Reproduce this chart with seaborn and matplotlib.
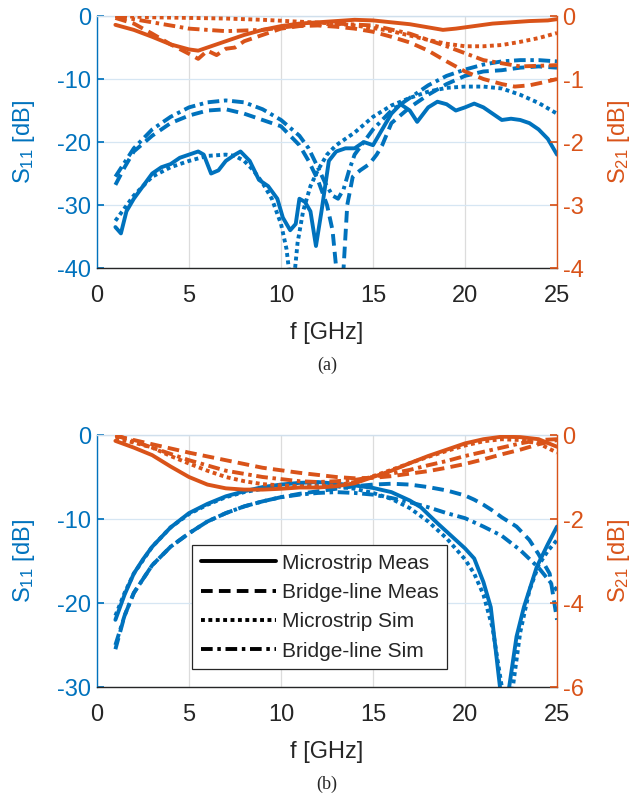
import numpy as np
import pandas as pd
import matplotlib
matplotlib.use("Agg")
import matplotlib.pyplot as plt
from matplotlib.lines import Line2D
import seaborn as sns

# Colours (MATLAB default order)
BLUE = "#0072BD"
ORANGE = "#D95319"

# ---------------- (a) top panel data ----------------
# S11 (left axis, dB)
fa_s11_ms_meas = [1, 1.3, 1.6, 2, 2.5, 3, 3.5, 4, 4.5, 5, 5.5, 5.8, 6.2, 6.6, 7, 7.5, 7.8, 8.3, 8.8, 9.3,
                  9.8, 10.1, 10.5, 10.8, 11.0, 11.3, 11.6, 11.9, 12.2, 12.6, 13.0, 13.5, 14.0, 14.5, 15.0,
                  15.5, 16.0, 16.5, 17.0, 17.4, 18.0, 18.5, 19.0, 19.5, 20.0, 20.5, 21.0, 21.5, 22.0, 22.5,
                  23.0, 23.5, 24.0, 24.5, 25]
a_s11_ms_meas = [-33.5, -34.5, -31, -29, -27, -25, -24, -23.5, -22.5, -22, -21.5, -22, -25, -24.5, -23,
                 -22, -21.5, -23, -26, -27, -29, -32, -34, -33, -29, -29.5, -31, -36.5, -31, -23, -21.5,
                 -21, -21, -20, -20.5, -18, -15.5, -14, -15, -16.8, -14.5, -13.6, -14, -15, -14.5, -13.9,
                 -14.5, -15.5, -16.5, -16.3, -16.5, -17, -18, -19.5, -22]

fa_s11_bl_meas = [1, 1.5, 2, 3, 4, 5, 6, 7, 8, 9, 10, 11, 11.5, 12, 12.5, 12.8, 13.0, 13.2, 13.4, 13.6,
                  13.9, 14.3, 14.8, 15.2, 15.5, 16, 17, 18, 19, 20, 21, 22, 23, 24, 25]
a_s11_bl_meas = [-26.8, -24, -21.5, -19, -17, -15.8, -15, -14.8, -15.5, -16.5, -17.5, -20.5, -23, -26,
                 -30, -34, -40, -45, -40, -30, -25.5, -24.5, -23.5, -22, -20.5, -17, -14.5, -12.5, -10.8,
                 -9.5, -8.8, -8.6, -8.2, -8, -8.2]

fa_s11_ms_sim = [1, 2, 3, 4, 5, 6, 7, 7.5, 8, 8.5, 9, 9.5, 10, 10.3, 10.5, 10.7, 10.9, 11.2, 11.6, 12,
                 12.5, 13, 14, 15, 16, 17, 18, 19, 20, 21, 22, 23, 24, 25]
a_s11_ms_sim = [-32.5, -28.5, -25.5, -24, -23, -22.2, -22, -22.2, -23, -24.5, -26.5, -29, -33, -37, -42,
                -42, -36, -31, -27, -24.5, -22, -20.5, -18.5, -16, -14.2, -13, -12, -11.4, -11.2, -11.2,
                -11.5, -12.5, -13.8, -15.5]

fa_s11_bl_sim = [1, 2, 3, 4, 5, 6, 7, 8, 9, 10, 11, 11.5, 12, 12.4, 12.8, 13.1, 13.4, 13.7, 14, 15, 16,
                 17, 18, 19, 20, 21, 22, 23, 24, 25]
a_s11_bl_sim = [-25.5, -21, -18, -16, -14.5, -13.7, -13.4, -13.7, -14.8, -16.5, -19, -21, -24, -26.5,
                -28.5, -29, -27.5, -24.5, -22, -18, -15, -13, -11, -9.5, -8.5, -7.7, -7.2, -7, -7, -7.2]

# S21 (right axis, dB)
fa_s21_ms_meas = [1, 2, 3, 4, 5, 5.5, 6, 7, 8, 9, 10, 11, 12, 13, 14, 15, 16, 17, 18, 18.8, 19.5, 20.5,
                  21.5, 22.5, 23.5, 24.5, 25]
a_s21_ms_meas = [-0.14, -0.22, -0.33, -0.45, -0.53, -0.55, -0.5, -0.4, -0.3, -0.22, -0.16, -0.12, -0.1,
                 -0.08, -0.06, -0.07, -0.1, -0.13, -0.18, -0.22, -0.2, -0.16, -0.12, -0.1, -0.08, -0.07,
                 -0.05]

fa_s21_bl_meas = [1, 2, 3, 4, 5, 5.5, 6, 6.5, 7, 7.5, 8, 9, 10, 11, 12, 13, 14, 15, 16, 17, 18, 19, 20,
                  21, 22, 22.7, 23.5, 24.3, 25]
a_s21_bl_meas = [-0.03, -0.12, -0.28, -0.45, -0.6, -0.68, -0.55, -0.62, -0.52, -0.5, -0.4, -0.3, -0.2,
                 -0.16, -0.15, -0.17, -0.2, -0.25, -0.33, -0.42, -0.55, -0.72, -0.88, -1.0, -1.08, -1.12,
                 -1.1, -1.05, -1.0]

fa_s21_ms_sim = [1, 3, 5, 7, 9, 11, 13, 14, 15, 16, 17, 18, 19, 20, 21, 22, 23, 24, 25]
a_s21_ms_sim = [0, -0.02, -0.03, -0.04, -0.06, -0.09, -0.12, -0.15, -0.19, -0.24, -0.31, -0.38, -0.44,
                -0.48, -0.48, -0.46, -0.41, -0.35, -0.27]

fa_s21_bl_sim = [1, 3, 5, 7, 9, 11, 13, 15, 17, 19, 21, 23, 25]
a_s21_bl_sim = [0, -0.1, -0.2, -0.24, -0.22, -0.15, -0.12, -0.15, -0.28, -0.48, -0.7, -0.8, -0.78]

# ---------------- (b) bottom panel data ----------------
fb_s11_ms_meas = [1, 1.5, 2, 2.5, 3, 4, 5, 6, 7, 8, 9, 10, 11, 12, 13, 14, 15, 16, 17, 17.6, 18.5, 19.4,
                  20.0, 20.5, 21.0, 21.4, 21.9, 22.15, 22.4, 22.8, 23.2, 23.9, 24.5, 25]
b_s11_ms_meas = [-22, -19, -16.5, -14.8, -13.3, -11, -9.3, -8.2, -7.3, -6.7, -6.2, -5.9, -5.7, -5.6,
                 -5.8, -6, -6.3, -6.8, -7.8, -8.6, -10.5, -12.3, -13.5, -14.7, -17.5, -20.5, -30, -35,
                 -30, -24, -20.5, -15.7, -13, -10.9]

fb_s11_bl_meas = [1, 1.5, 2, 3, 4, 5, 6, 7, 8, 9, 10, 11, 12, 13, 14, 15, 16, 17, 18, 19, 20, 20.5, 21,
                  21.5, 22, 22.8, 23.5, 24, 24.6, 25]
b_s11_bl_meas = [-25.5, -21.5, -18.8, -15.5, -13.3, -11.7, -10.3, -9.3, -8.5, -7.9, -7.4, -7.0, -6.7,
                 -6.4, -6.1, -5.9, -5.8, -5.9, -6.2, -6.6, -7.2, -7.7, -8.3, -9.0, -9.8, -10.9, -12.5,
                 -14.2, -16.5, -22]

fb_s11_ms_sim = [1, 1.5, 2, 3, 4, 5, 6, 7, 8, 9, 10, 11, 12, 13, 14, 15, 16, 17, 18, 19, 20, 20.5, 21,
                 21.5, 22.0, 22.3, 22.6, 23.0, 23.5, 24.0, 24.5, 25]
b_s11_ms_sim = [-21.5, -18.8, -16.5, -13.3, -11, -9.4, -8.3, -7.4, -6.8, -6.4, -6.1, -6.0, -6.0, -6.1,
                -6.4, -6.9, -7.6, -8.7, -10.3, -12.3, -14.8, -16.5, -19, -23, -30, -36, -30, -23.5,
                -18.5, -15.5, -13.8, -12.5]

fb_s11_bl_sim = [1, 1.5, 2, 3, 4, 5, 6, 7, 8, 9, 10, 11, 12, 13, 14, 15, 16, 17, 18, 19, 20, 21, 22, 23,
                 24, 25]
b_s11_bl_sim = [-25, -21.5, -18.8, -15.5, -13.3, -11.7, -10.3, -9.3, -8.5, -7.9, -7.4, -7.1, -6.9, -6.8,
                -6.9, -7.1, -7.5, -8.0, -8.6, -9.3, -9.9, -10.9, -12.0, -13.7, -15.8, -18.5]

fb_s21_ms_meas = [1, 2, 3, 4, 5, 6, 7, 8, 9, 10, 11, 12, 13, 14, 15, 16, 17, 18, 19, 20, 21, 22, 23, 24, 25]
b_s21_ms_meas = [-0.14, -0.3, -0.48, -0.75, -1.0, -1.18, -1.27, -1.3, -1.3, -1.28, -1.25, -1.25, -1.22,
                 -1.15, -1.0, -0.85, -0.67, -0.5, -0.35, -0.2, -0.1, -0.04, -0.05, -0.1, -0.28]

fb_s21_bl_meas = [1, 3, 5, 7, 9, 11, 13, 14, 15, 16, 17, 18, 19, 20, 21, 22, 23, 24, 25]
b_s21_bl_meas = [-0.02, -0.22, -0.42, -0.6, -0.78, -0.9, -1.0, -1.03, -1.02, -0.98, -0.92, -0.86, -0.78,
                 -0.69, -0.58, -0.46, -0.35, -0.22, -0.12]

fb_s21_ms_sim = [1, 2, 3, 4, 5, 6, 7, 8, 9, 10, 11, 12, 13, 14, 15, 16, 17, 18, 19, 20, 21, 22, 23, 24, 25]
b_s21_ms_sim = [-0.08, -0.18, -0.3, -0.5, -0.68, -0.85, -1.0, -1.1, -1.17, -1.2, -1.22, -1.22, -1.2,
                -1.12, -0.98, -0.83, -0.67, -0.52, -0.38, -0.25, -0.15, -0.1, -0.12, -0.2, -0.42]

fb_s21_bl_sim = [1, 3, 5, 7, 9, 11, 12, 13, 14, 15, 16, 17, 18, 19, 20, 21, 22, 23, 24, 25]
b_s21_bl_sim = [0, -0.3, -0.6, -0.85, -1.0, -1.1, -1.12, -1.1, -1.07, -1.0, -0.92, -0.83, -0.72, -0.62,
                -0.5, -0.4, -0.3, -0.2, -0.12, -0.1]

LEGEND_LABELS = ["Microstrip Meas", "Bridge-line Meas", "Microstrip Sim", "Bridge-line Sim"]

# line styles: solid, dashed, dotted, dash-dot
STYLES = ["-", (0, (3.0, 1.6)), (0, (1.0, 0.9)), (0, (3.0, 1.2, 0.9, 1.2))]
LW = 2.8

sns.set_theme(style="white")
plt.rcParams["font.family"] = ["Liberation Sans", "DejaVu Sans"]
plt.rcParams["mathtext.default"] = "regular"
plt.rcParams["axes.unicode_minus"] = False

fig = plt.figure(figsize=(6.39, 7.97), dpi=100)


def draw_panel(rect, s11_sets, s21_sets, s11_lim, s21_lim, s21_ticks):
    ax = fig.add_axes(rect)
    ax2 = ax.twinx()
    for (f, s), ls in zip(s11_sets, STYLES):
        df = pd.DataFrame({"f": f, "s": s})
        sns.lineplot(data=df, x="f", y="s", ax=ax, color=BLUE, linestyle=ls, linewidth=LW,
                     estimator=None, errorbar=None, sort=False)
    for (f, s), ls in zip(s21_sets, STYLES):
        df = pd.DataFrame({"f": f, "s": s})
        sns.lineplot(data=df, x="f", y="s", ax=ax2, color=ORANGE, linestyle=ls, linewidth=LW,
                     estimator=None, errorbar=None, sort=False)

    ax.set_xlim(0, 25)
    ax.set_ylim(*s11_lim)
    ax2.set_ylim(*s21_lim)
    ax.set_xticks(np.arange(0, 26, 5))
    ax2.set_yticks(s21_ticks)

    # grid like MATLAB
    ax.xaxis.grid(True, color="#dcdcdc", linewidth=0.9)
    ax.yaxis.grid(True, color="#d6e6f3", linewidth=0.9)
    ax.set_axisbelow(True)

    ax.set_xlabel("f [GHz]", fontsize=17, color="#262626", labelpad=11)
    ax.set_ylabel("S$_{11}$ [dB]", fontsize=17, color=BLUE, labelpad=15)
    ax2.set_ylabel("S$_{21}$ [dB]", fontsize=17, color=ORANGE, labelpad=16)

    ax.tick_params(axis="x", direction="in", length=5, labelsize=17, colors="#262626", pad=12)
    ax.tick_params(axis="y", direction="in", length=5, labelsize=17, colors=BLUE, pad=4)
    ax2.tick_params(axis="y", direction="in", length=5, labelsize=17, colors=ORANGE, pad=4)

    ax.spines["left"].set_color(BLUE)
    ax.spines["bottom"].set_color("#262626")
    ax.spines["top"].set_color("#d0dfec")
    ax.spines["right"].set_visible(False)
    for side in ["left", "top", "bottom"]:
        ax2.spines[side].set_visible(False)
    ax2.spines["right"].set_color(ORANGE)
    for sp in ax.spines.values():
        sp.set_linewidth(1.0)
    ax2.spines["right"].set_linewidth(1.0)
    return ax, ax2


ax_a, ax_a2 = draw_panel(
    [0.1518, 0.6637, 0.7199, 0.3162],
    [(fa_s11_ms_meas, a_s11_ms_meas), (fa_s11_bl_meas, a_s11_bl_meas),
     (fa_s11_ms_sim, a_s11_ms_sim), (fa_s11_bl_sim, a_s11_bl_sim)],
    [(fa_s21_ms_meas, a_s21_ms_meas), (fa_s21_bl_meas, a_s21_bl_meas),
     (fa_s21_ms_sim, a_s21_ms_sim), (fa_s21_bl_sim, a_s21_bl_sim)],
    (-40, 0), (-4, 0), np.arange(-4, 1, 1))

ax_b, ax_b2 = draw_panel(
    [0.1518, 0.1380, 0.7199, 0.3162],
    [(fb_s11_ms_meas, b_s11_ms_meas), (fb_s11_bl_meas, b_s11_bl_meas),
     (fb_s11_ms_sim, b_s11_ms_sim), (fb_s11_bl_sim, b_s11_bl_sim)],
    [(fb_s21_ms_meas, b_s21_ms_meas), (fb_s21_bl_meas, b_s21_bl_meas),
     (fb_s21_ms_sim, b_s21_ms_sim), (fb_s21_bl_sim, b_s21_bl_sim)],
    (-30, 0), (-6, 0), np.arange(-6, 1, 2))

# legend with black proxy lines
handles = [Line2D([], [], color="black", linestyle=ls, linewidth=LW) for ls in STYLES]
leg = ax_b2.legend(handles, LEGEND_LABELS, loc="lower left", bbox_to_anchor=(0.207, 0.071),
                   fontsize=15, handlelength=3.6, handletextpad=0.3, labelspacing=0.5,
                   borderpad=0.4, borderaxespad=0, fancybox=False, framealpha=1)
leg.get_frame().set_edgecolor("#262626")
leg.get_frame().set_linewidth(0.9)

fig.text(0.512, 1 - 365 / 797, "(a)", ha="center", va="center", fontsize=13,
         family=["Liberation Serif", "DejaVu Serif"])
fig.text(0.512, 1 - 784 / 797, "(b)", ha="center", va="center", fontsize=13,
         family=["Liberation Serif", "DejaVu Serif"])

fig.savefig("out.png", dpi=100)
